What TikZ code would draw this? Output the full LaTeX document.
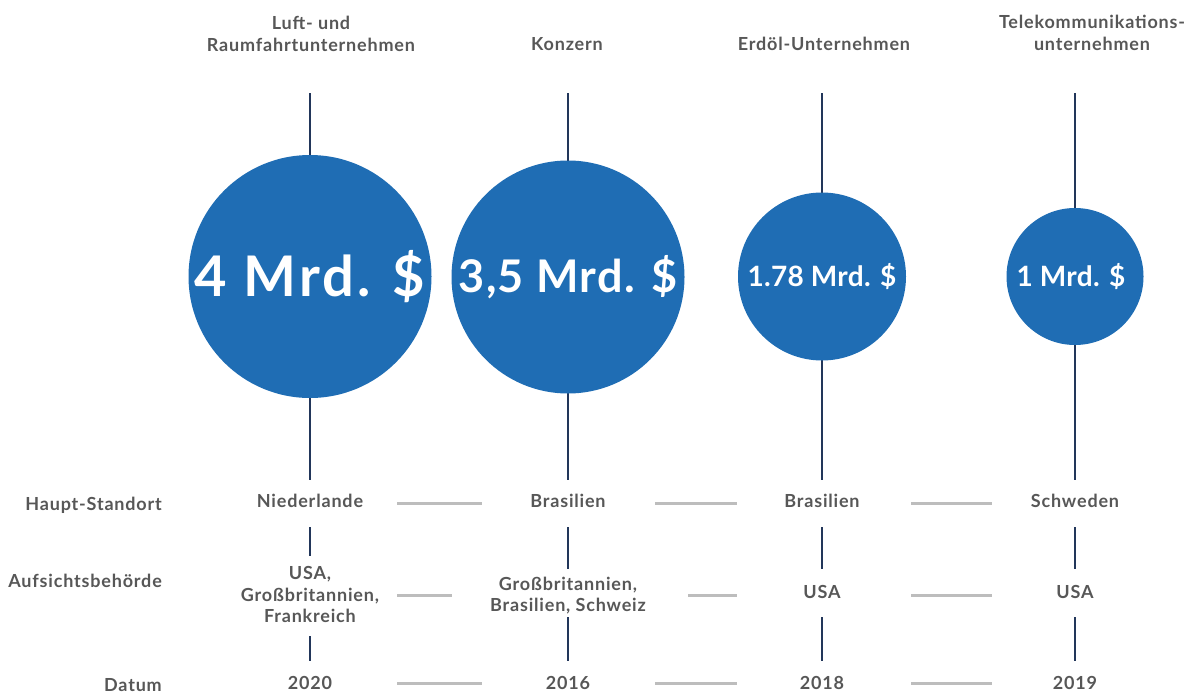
\documentclass[tikz,border=0pt]{standalone}
\usepackage{fontspec}
\setmainfont{Lato}
\newfontfamily\lblfont{Lato}[LetterSpace=4.5]
\newfontfamily\figfont{Lato}[LetterSpace=4]
\definecolor{navy}{HTML}{22365A}
\definecolor{bubble}{HTML}{1F6DB4}
\definecolor{rulegray}{HTML}{BDBDBD}
\definecolor{txtgray}{HTML}{575757}
\begin{document}
\begin{tikzpicture}[x=1pt,y=-1pt,
  txt/.style={font=\lblfont\bfseries\fontsize{18}{21.5}\selectfont, text=txtgray, inner sep=0pt, align=center},
  rowlbl/.style={txt, anchor=base east},
  stem/.style={draw=navy, line width=2.7pt},
  link/.style={draw=rulegray, line width=3pt},
  bub/.style={circle, fill=bubble, inner sep=0pt, text=white, text depth=0pt}]
\useasboundingbox (0,0) rectangle (1189,693);

% column headings
\node[txt, anchor=north] (h1) at (311,16) {Luft- und\\Raumfahrtunternehmen};
\node[txt, anchor=north] (h2) at (567,37) {Konzern};
\node[txt, anchor=north] (h3) at (824,37) {Erdöl-Unternehmen};
\node[txt, anchor=north] (h4) at (1092,15) {Telekommunikations-\\unternehmen};

% stems behind the bubbles
\foreach \i/\x in {1/310, 2/568, 3/822, 4/1075} {
  \coordinate (t\i) at (\x,93);
  \coordinate (b\i) at (\x,480);
  \draw[stem] (t\i) -- (b\i);
}

% bubbles (text height = twice the baseline offset below the centre)
\node[bub, minimum size=243pt, text height=39pt,
  font=\figfont\bfseries\fontsize{56}{58}\selectfont\addfontfeature{LetterSpace=5.5}] (c1) at (310,276.5) {4 Mrd. \$};
\node[bub, minimum size=233pt, text height=30pt,
  font=\figfont\bfseries\fontsize{45}{47}\selectfont\addfontfeature{LetterSpace=3}] (c2) at (568,277) {3,5 Mrd. \$};
\node[bub, minimum size=168pt, text height=19pt,
  font=\figfont\bfseries\fontsize{28}{29}\selectfont\addfontfeature{LetterSpace=1}] (c3) at (822,276.5) {1.78 Mrd. \$};
\node[bub, minimum size=137pt, text height=19pt,
  font=\figfont\bfseries\fontsize{28}{29}\selectfont\addfontfeature{LetterSpace=1}] (c4) at (1075,276.5) {\hspace*{-8pt}1 Mrd. \$};

% row labels
\node[rowlbl] (lHQ) at (162,510) {Haupt-Standort};
\node[rowlbl] (lReg) at (162,587) {Aufsichtsbehörde};
\node[rowlbl] (lDate) at (162,691) {Datum};

% headquarters
\node[txt, anchor=base] (hq1) at (310,507) {Niederlande};
\node[txt, anchor=base] (hq2) at (568,507) {Brasilien};
\node[txt, anchor=base] (hq3) at (822,507) {Brasilien};
\node[txt, anchor=base] (hq4) at (1075,507) {Schweden};

% regulators
\node[txt, anchor=north] (rg1) at (310,566.5) {USA,\\Großbritannien,\\Frankreich};
\node[txt, anchor=north] (rg2) at (568,576.5) {Großbritannien,\\Brasilien, Schweiz};
\node[txt, anchor=base] (rg3) at (822,598.3) {USA};
\node[txt, anchor=base] (rg4) at (1075,598.3) {USA};

% dates
\node[txt, anchor=base] (d1) at (310,689.5) {2020};
\node[txt, anchor=base] (d2) at (568,689.5) {2016};
\node[txt, anchor=base] (d3) at (822,689.5) {2018};
\node[txt, anchor=base] (d4) at (1075,689.5) {2019};

% stem pieces between the rows
\coordinate (s1a) at (310,527); \coordinate (s1b) at (310,556);
\coordinate (s1c) at (310,636); \coordinate (s1d) at (310,661);
\draw[stem] (s1a) -- (s1b);
\draw[stem] (s1c) -- (s1d);
\foreach \i/\x in {2/568, 3/822, 4/1075} {
  \coordinate (s\i a) at (\x,527); \coordinate (s\i b) at (\x,569);
  \coordinate (s\i c) at (\x,617); \coordinate (s\i d) at (\x,661);
  \draw[stem] (s\i a) -- (s\i b);
  \draw[stem] (s\i c) -- (s\i d);
}

% grey links between the columns
\foreach \r/\y in {1/503, 3/683} {
  \coordinate (g\r1a) at (397,\y); \coordinate (g\r1b) at (482,\y);
  \draw[link] (g\r1a) -- (g\r1b);
}
\coordinate (g21a) at (397,595); \coordinate (g21b) at (452,595);
\draw[link] (g21a) -- (g21b);
\foreach \r/\y in {1/503, 3/683} {
  \coordinate (g\r2a) at (655,\y); \coordinate (g\r2b) at (737,\y);
  \draw[link] (g\r2a) -- (g\r2b);
}
\coordinate (g22a) at (688,595); \coordinate (g22b) at (737,595);
\draw[link] (g22a) -- (g22b);
\foreach \r/\y in {1/503, 2/595, 3/683} {
  \coordinate (g\r3a) at (911,\y); \coordinate (g\r3b) at (992,\y);
  \draw[link] (g\r3a) -- (g\r3b);
}
\end{tikzpicture}
\end{document}
